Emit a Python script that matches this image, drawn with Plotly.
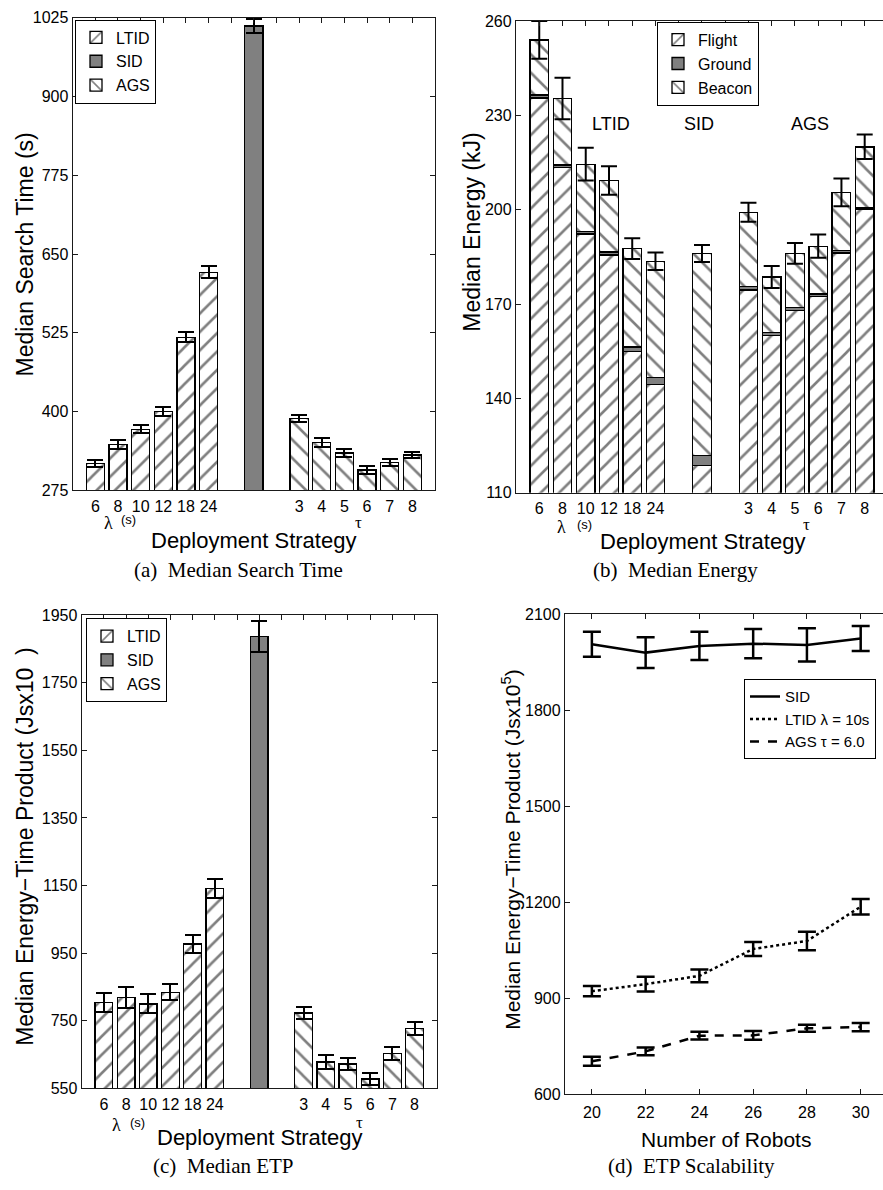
import plotly.graph_objects as go

W, H = 883, 1190

# ---------------- data ----------------
lambda_labels = ["6", "8", "10", "12", "18", "24"]
tau_labels = ["3", "4", "5", "6", "7", "8"]
ltid_slots = [1, 2, 3, 4, 5, 6]
sid_slot = [8]
ags_slots = [10, 11, 12, 13, 14, 15]
all_slots = list(range(1, 16))

# (a) Median search time (s)
time_ltid = [318, 348, 372, 400, 518, 621]
time_ltid_err = [5.7, 6.7, 6.7, 6.7, 8, 9.6]
time_sid = [1012]
time_sid_err = [11.5]
time_ags = [389, 351, 334, 307, 319, 331]
time_ags_err = [5.7, 6.5, 6, 6, 5.7, 5.4]

# (b) Median energy (kJ), stacked: Flight / Ground / Beacon
energy_slots = ltid_slots + sid_slot + ags_slots
energy_flight = [235.5, 213.5, 192.3, 185.6, 155.0, 144.4, 118.7, 174.5, 160.0, 168.0, 172.5, 186.2, 200.0]
energy_ground = [1.0, 0.7, 0.7, 1.0, 1.3, 2.3, 3.1, 1.0, 0.9, 0.9, 0.7, 0.8, 0.6]
energy_beacon = [17.5, 21.2, 21.5, 22.7, 31.3, 36.9, 64.3, 23.7, 17.7, 17.2, 15.2, 18.5, 19.4]
energy_err = [6.0, 6.6, 5.2, 4.5, 3.3, 2.8, 2.7, 3.0, 3.5, 3.3, 3.7, 4.4, 3.9]

# (c) Median ETP
etp_ltid = [804, 819, 800, 834, 977, 1142]
etp_ltid_err = [28, 32, 28, 24, 27, 28]
etp_sid = [1887]
etp_sid_err = [45]
etp_ags = [773, 628, 622, 578, 654, 727]
etp_ags_err = [19, 20, 18, 18, 19, 20]

# (d) ETP scalability
robots = [20, 22, 24, 26, 28, 30]
scal_sid = [2006, 1980, 2001, 2008, 2004, 2024]
scal_sid_err = [39, 48, 44, 46, 52, 39]
scal_ltid = [922, 944, 970, 1054, 1079, 1186]
scal_ltid_err = [16, 23, 20, 22, 29, 24]
scal_ags = [703, 734, 783, 784, 806, 810]
scal_ags_err = [14, 12, 12, 14, 11, 13]

# ---------------- styling helpers ----------------
SANS = "Liberation Sans, Arial, sans-serif"
SERIF = "Liberation Serif, Times New Roman, serif"
AX = "#1a1a1a"
GRAY = "rgb(128,128,128)"


def px(x):
    return x / W


def py(y):
    return 1 - y / H


def hatch(shape):
    return dict(color="white", line=dict(color="black", width=1.3),
                pattern=dict(shape=shape, fgcolor="black", bgcolor="white",
                             size=13, solidity=0.2))


def solid():
    return dict(color=GRAY, line=dict(color="black", width=1.3))


def err(arr, w=8, t=2):
    return dict(type="data", array=arr, color="black", thickness=t, width=w, visible=True)


fig = go.Figure()

# ---------- (a) ----------
fig.add_trace(go.Bar(x=ltid_slots, y=time_ltid, width=0.8, name="LTID", marker=hatch("/"),
                     error_y=err(time_ltid_err), xaxis="x", yaxis="y", legend="legend"))
fig.add_trace(go.Bar(x=sid_slot, y=time_sid, width=0.8, name="SID", marker=solid(),
                     error_y=err(time_sid_err), xaxis="x", yaxis="y", legend="legend"))
fig.add_trace(go.Bar(x=ags_slots, y=time_ags, width=0.8, name="AGS", marker=hatch("\\"),
                     error_y=err(time_ags_err), xaxis="x", yaxis="y", legend="legend"))

# ---------- (b) ----------
fig.add_trace(go.Bar(x=energy_slots, y=energy_flight, width=0.8, name="Flight", marker=hatch("/"),
                     xaxis="x2", yaxis="y2", legend="legend2"))
fig.add_trace(go.Bar(x=energy_slots, y=energy_ground, width=0.8, name="Ground", marker=solid(),
                     xaxis="x2", yaxis="y2", legend="legend2"))
fig.add_trace(go.Bar(x=energy_slots, y=energy_beacon, width=0.8, name="Beacon", marker=hatch("\\"),
                     xaxis="x2", yaxis="y2", legend="legend2"))
energy_total = [f + g + b for f, g, b in zip(energy_flight, energy_ground, energy_beacon)]
fig.add_trace(go.Scatter(x=energy_slots, y=energy_total, mode="markers",
                         marker=dict(size=2, color="rgba(0,0,0,0)"),
                         error_y=err(energy_err), showlegend=False, hoverinfo="skip",
                         xaxis="x2", yaxis="y2"))

# ---------- (c) ----------
fig.add_trace(go.Bar(x=ltid_slots, y=etp_ltid, width=0.8, name="LTID", marker=hatch("/"),
                     error_y=err(etp_ltid_err), xaxis="x3", yaxis="y3", legend="legend3"))
fig.add_trace(go.Bar(x=sid_slot, y=etp_sid, width=0.8, name="SID", marker=solid(),
                     error_y=err(etp_sid_err), xaxis="x3", yaxis="y3", legend="legend3"))
fig.add_trace(go.Bar(x=ags_slots, y=etp_ags, width=0.8, name="AGS", marker=hatch("\\"),
                     error_y=err(etp_ags_err), xaxis="x3", yaxis="y3", legend="legend3"))

# ---------- (d) ----------
for name, vals, errs, dash in [("SID", scal_sid, scal_sid_err, "solid"),
                               ("LTID \u03bb = 10s", scal_ltid, scal_ltid_err, "dot"),
                               ("AGS \u03c4 = 6.0", scal_ags, scal_ags_err, "dash")]:
    fig.add_trace(go.Scatter(x=robots, y=vals, mode="lines", name=name,
                             line=dict(color="black", width=2.5, dash=dash),
                             error_y=err(errs, w=9, t=2.5),
                             xaxis="x4", yaxis="y4", legend="legend4"))

# invisible traces for top tick axes
for xa, ya in [("x5", "y"), ("x6", "y2"), ("x7", "y3")]:
    fig.add_trace(go.Scatter(x=[None], y=[None], mode="markers", showlegend=False,
                             hoverinfo="skip", xaxis=xa, yaxis=ya))

# ---------------- axes ----------------
tick_font = dict(family=SANS, size=16, color="black")
bar_tickvals = ltid_slots + ags_slots
bar_ticktext = lambda_labels + tau_labels


def bar_xaxis(domain, anchor, rng):
    return dict(domain=domain, anchor=anchor, range=rng, tickvals=bar_tickvals,
                ticktext=bar_ticktext, ticks="", showline=True, linecolor=AX, linewidth=1.3,
                mirror=True, showgrid=False, zeroline=False, tickfont=tick_font,
                ticklabelstandoff=1, fixedrange=True)


def top_axis(over, anchor, rng, vals, domain):
    return dict(overlaying=over, side="top", anchor=anchor, range=rng, tickvals=vals,
                domain=domain, ticks="inside", ticklen=5, tickwidth=1.2, tickcolor=AX,
                showticklabels=False, showline=False, showgrid=False, zeroline=False)


def yax(domain, anchor, rng, vals, mirror):
    return dict(domain=domain, anchor=anchor, range=rng, tickvals=vals,
                ticks="inside", ticklen=5, tickwidth=1.2, tickcolor=AX,
                showline=True, linecolor=AX, linewidth=1.3, mirror=mirror,
                showgrid=False, zeroline=False, tickfont=tick_font)


A_x = [px(72.7), px(435)]
A_y = [py(489.3), py(10)]
B_x = [px(516), 1.0]
B_y = [py(491.7), py(13.3)]
C_x = [px(81.7), px(436.7)]
C_y = [py(1096), py(616)]
D_x = [px(565), 1.0]
D_y = [py(1102), py(615)]

rA = [0, 16]
rB = [0, 1 + (883 - 538) / 23.33]
rC = [0, 16]

fig.update_layout(
    xaxis=bar_xaxis(A_x, "y", rA),
    yaxis=yax(A_y, "x", [275, 1025], [275, 400, 525, 650, 775, 900, 1025], "ticks"),
    xaxis2=bar_xaxis(B_x, "y2", rB),
    yaxis2=yax(B_y, "x2", [110, 260], [110, 140, 170, 200, 230, 260], False),
    xaxis3=bar_xaxis(C_x, "y3", rC),
    yaxis3=yax(C_y, "x3", [550, 1950], [550, 750, 950, 1150, 1350, 1550, 1750, 1950], "ticks"),
    xaxis4=dict(domain=D_x, anchor="y4", range=[19, 30.83], tickvals=robots,
                ticks="inside", ticklen=5, tickwidth=1.2, tickcolor=AX,
                showline=True, linecolor=AX, linewidth=1.3, mirror="ticks",
                showgrid=False, zeroline=False, tickfont=tick_font, ticklabelstandoff=3),
    yaxis4=yax(D_y, "x4", [600, 2100], [600, 900, 1200, 1500, 1800, 2100], False),
    xaxis5=top_axis("x", "y", rA, all_slots, A_x),
    xaxis6=top_axis("x2", "y2", rB, all_slots, B_x),
    xaxis7=top_axis("x3", "y3", rC, all_slots, C_x),
)

# ---------------- legends ----------------
def legend(x, y, size=16, xanchor="left"):
    return dict(x=x, y=y, xanchor=xanchor, yanchor="top", xref="paper", yref="paper",
                bgcolor="white", bordercolor="black", borderwidth=1,
                font=dict(family=SANS, size=size, color="black"),
                traceorder="normal", tracegroupgap=0, itemwidth=30)


fig.update_layout(
    legend=legend(px(75), py(11.7)),
    legend2=legend(px(657), py(14)),
    legend3=legend(px(86), py(619)),
    legend4=legend(px(876), py(681), 15, "right"),
)

# ---------------- annotations ----------------
ann = []


def text(x, y, s, size, xref="paper", yref="paper", family=SANS, angle=0):
    ann.append(dict(x=x, y=y, xref=xref, yref=yref, text=s, showarrow=False,
                    font=dict(family=family, size=size, color="black"),
                    xanchor="center", yanchor="middle", textangle=angle))


# y titles
text(px(25), py(250), "Median Search Time (s)", 23, angle=-90)
text(px(472), py(228), "Median Energy (kJ)", 23, angle=-90)
text(px(25), py(851), "Median Energy\u2212Time Product (Jsx10\u00a0\u00a0)", 23, angle=-90)
text(px(511), py(854), "Median Energy\u2212Time Product (Jsx10<sup>5</sup>)", 21, angle=-90)

# x titles
text(8.0, py(540), "Deployment Strategy", 22, xref="x")
text(8.03, py(541), "Deployment Strategy", 22, xref="x2")
text(8.0, py(1146), "Deployment Strategy", 22, xref="x3")
text(25, py(1148), "Number of Robots", 21, xref="x4")

# lambda / tau sub-labels
for xr, lx, ly, sx, sy, tx, ty in [("x", 1.59, 522, 2.47, 519, 12.6, 522),
                                     ("x2", 1.94, 527, 2.93, 524, 12.49, 524),
                                     ("x3", 1.57, 1133, 2.52, 1131, 12.52, 1131)]:
    text(lx, py(ly), "\u03bb", 18, xref=xr, family=SERIF)
    text(sx, py(sy), "(s)", 13, xref=xr)
    text(tx, py(ty), "\u03c4", 17, xref=xr, family=SERIF)

# group labels in (b)
text(4.1, 227.2, "LTID", 18, xref="x2", yref="y2")
text(7.89, 227.2, "SID", 18, xref="x2", yref="y2")
text(12.66, 227.2, "AGS", 18, xref="x2", yref="y2")

# captions
text(px(238), py(570), "(a)\u2002Median Search Time", 21, family=SERIF)
text(px(675), py(570), "(b)\u2002Median Energy", 21, family=SERIF)
text(px(224), py(1175), "(c)\u2002Median ETP", 21, family=SERIF)
text(px(691), py(1175), "(d)\u2002ETP Scalability", 21, family=SERIF)

fig.update_layout(
    annotations=ann,
    width=W, height=H,
    margin=dict(l=0, r=0, t=0, b=0),
    paper_bgcolor="white", plot_bgcolor="white",
    barmode="stack", bargap=0.2,
    font=dict(family=SANS, color="black"),
)

fig.write_html("out.html",
               config={"displayModeBar": False},
               post_script="document.body.style.margin='0';document.body.style.padding='0';"
                           "document.body.style.overflow='hidden';")
